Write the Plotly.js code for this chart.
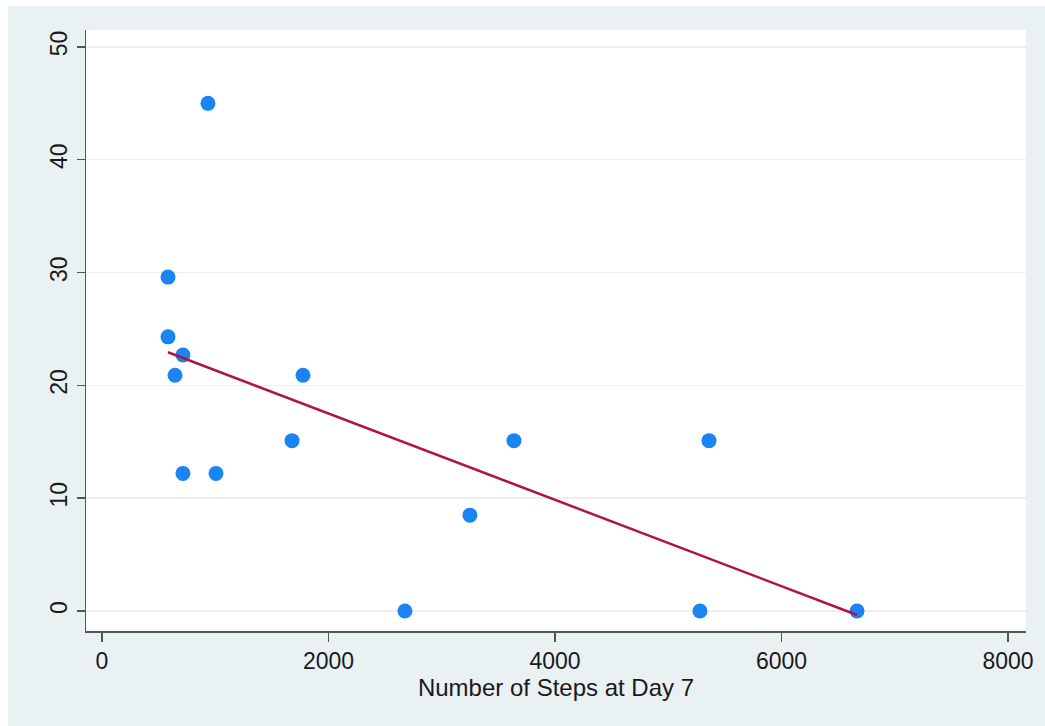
<!DOCTYPE html>
<html>
<head>
<meta charset="utf-8">
<script src="https://cdn.plot.ly/plotly-3.0.1.min.js"></script>
<style>html,body{margin:0;padding:0;background:#fff;}#chart{position:absolute;left:8px;top:6px;width:1037px;height:720px;}</style>
</head>
<body>
<div id="chart"></div>
<script>
const steps = [936, 583, 583, 715, 645, 1775, 715, 1007, 1678, 3638, 5360, 3249, 2675, 5280, 6667];
const scores = [45, 29.6, 24.3, 22.7, 20.9, 20.9, 12.2, 12.2, 15.1, 15.1, 15.1, 8.5, 0, 0, 0];
const xTicks = [0, 2000, 4000, 6000, 8000];
const yTicks = [0, 10, 20, 30, 40, 50];
const xTitle = "Number of Steps at Day 7";

// least-squares fit line over the observed range
const n = steps.length;
const mx = steps.reduce((a, b) => a + b, 0) / n;
const my = scores.reduce((a, b) => a + b, 0) / n;
let sxy = 0, sxx = 0;
for (let i = 0; i < n; i++) { sxy += (steps[i] - mx) * (scores[i] - my); sxx += (steps[i] - mx) ** 2; }
const slope = sxy / sxx, icpt = my - slope * mx;
const fitX = [Math.min(...steps), Math.max(...steps)];
const fitY = fitX.map(x => icpt + slope * x);

const fam = "Liberation Sans, Arial, sans-serif";

Plotly.newPlot("chart", [
  {x: steps, y: scores, mode: "markers", type: "scatter",
   marker: {color: "#1a84f2", size: 15}, hoverinfo: "x+y"},
  {x: fitX, y: fitY, mode: "lines", type: "scatter",
   line: {color: "#b0153f", width: 2.5}}
], {
  width: 1037, height: 720,
  paper_bgcolor: "#e9f1f3", plot_bgcolor: "#ffffff",
  margin: {l: 78, r: 19, t: 24, b: 95},
  showlegend: false,
  font: {family: fam, color: "#1a1a1a", size: 23},
  xaxis: {range: [-141, 8159], tickvals: xTicks, ticktext: xTicks.map(String),
          showgrid: false, zeroline: false, showline: true, linecolor: "#555", linewidth: 1.5,
          ticks: "outside", ticklen: 9, tickcolor: "#555", tickwidth: 1.5,
          tickfont: {size: 23, family: fam, color: "#1a1a1a"},
          title: {text: xTitle, font: {size: 24, family: fam, color: "#1a1a1a"}, standoff: 3}},
  yaxis: {range: [-1.77, 51.5], tickvals: yTicks, ticktext: yTicks.map(String),
          showgrid: true, gridcolor: "#eeeeee", gridwidth: 1.5, zeroline: false,
          showline: true, linecolor: "#555", linewidth: 1.5,
          ticks: "outside", ticklen: 8, tickcolor: "#555", tickwidth: 1.5, tickangle: -90,
          tickfont: {size: 23, family: fam, color: "#1a1a1a"}}
}, {displayModeBar: false, staticPlot: true});
</script>
</body>
</html>
